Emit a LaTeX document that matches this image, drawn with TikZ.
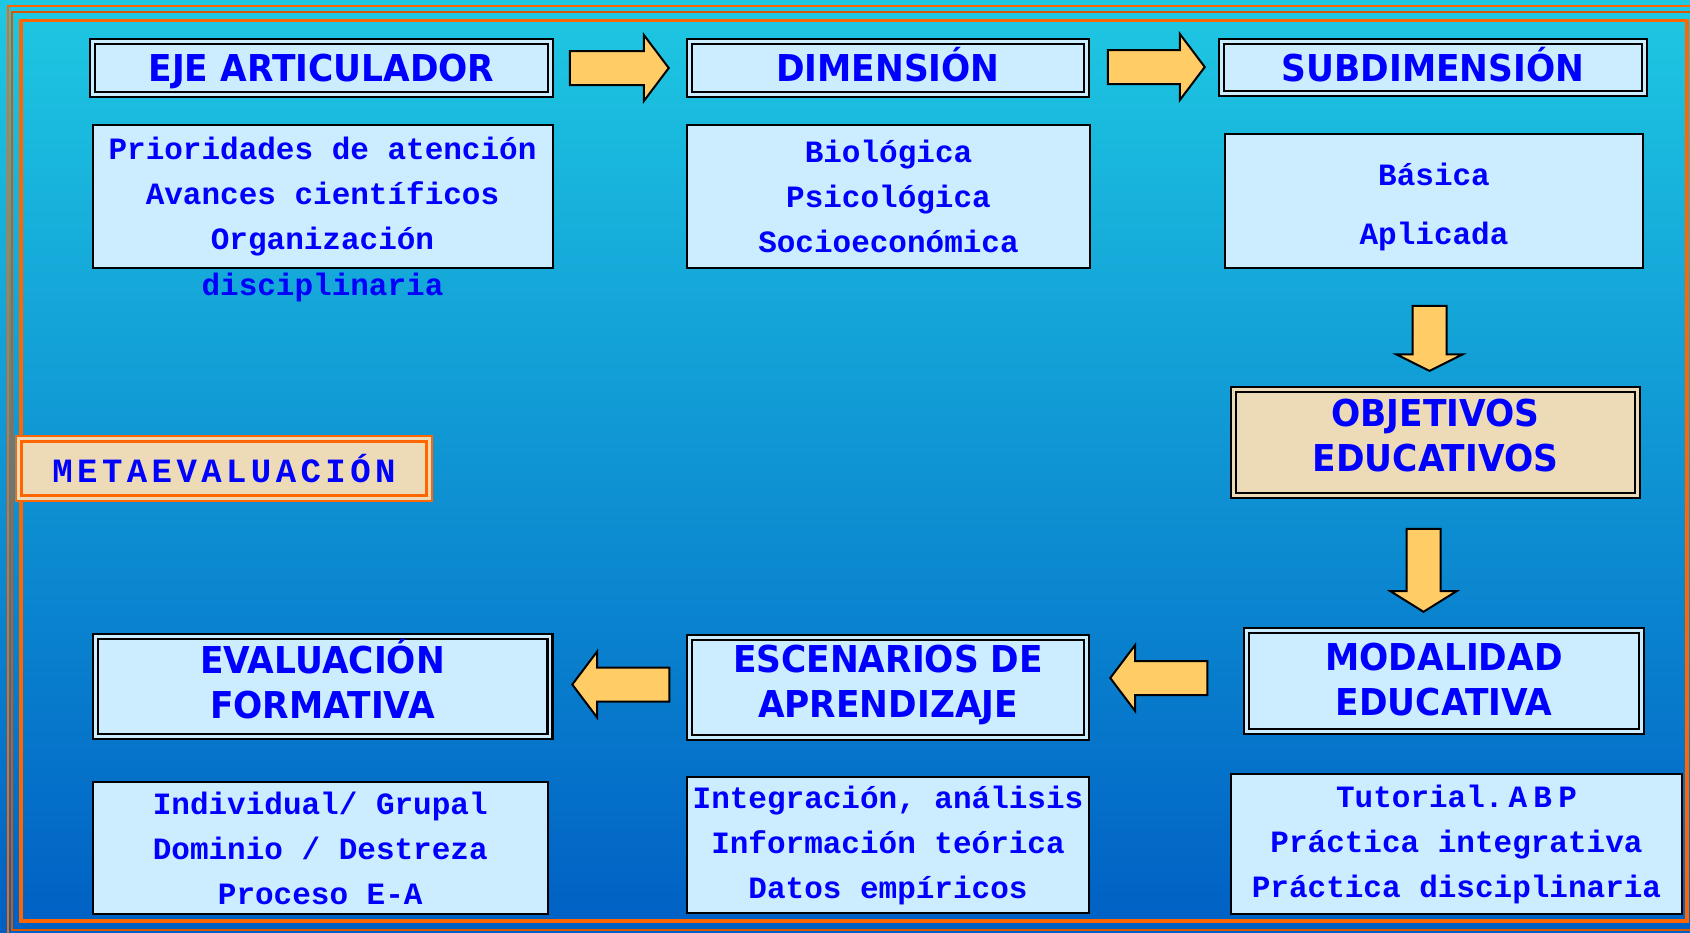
\documentclass[tikz,border=0pt]{standalone}
\usepackage{fontspec}
\usepackage{tikz}
\usetikzlibrary{shapes.arrows}

\newfontfamily\headfont[FakeStretch=0.93]{DejaVu Sans Bold}
\newfontfamily\monobf{Liberation Mono Bold}

\definecolor{bgtop}{RGB}{30,200,226}
\definecolor{bgbottom}{RGB}{0,96,196}
\definecolor{boxblue}{RGB}{204,236,255}
\definecolor{textblue}{RGB}{0,0,255}
\definecolor{arrowyellow}{RGB}{255,204,102}
\definecolor{frameorange}{RGB}{255,102,0}
\definecolor{parchment}{RGB}{236,219,182}

\begin{document}
\begin{tikzpicture}[x=0.5pt, y=-0.5pt,
  hdr/.style={draw=black, line width=1.1pt, double=boxblue, double distance=1.4pt,
    fill=boxblue, text=textblue, align=center, inner sep=0pt,
    font=\headfont\fontsize{18.5}{22.5}\selectfont},
  oneline/.style={text height=13.5pt, text depth=0pt},
  twoline/.style={text height=#1, text depth=0pt},
  twoline/.default=31.5pt,
  cbox/.style={draw=black, line width=1pt, fill=boxblue, text=textblue,
    align=center, inner sep=0pt, font=\monobf\fontsize{15.5}{22.5}\selectfont},
  sarrow/.style={single arrow, draw=black, line width=1pt, fill=arrowyellow,
    inner sep=8pt, single arrow head extend=8pt, line join=miter}]

% Background and orange frame
\useasboundingbox (0,0) rectangle (1690,932);
\shade[top color=bgtop, bottom color=bgbottom] (0,0) rectangle (1690,932);
\draw[frameorange, line width=1.25pt] (8,6) rectangle (1720,960);
\draw[frameorange!85!black, line width=0.9pt] (12,12) rectangle (1720,930);
\draw[frameorange, line width=1.75pt] (21,20.5) rectangle (1687,921);

% Top row: headings
\node[hdr, oneline, minimum width=228.9pt, minimum height=26.4pt] (eje) at (321.5,68) {EJE ARTICULADOR};
\node[hdr, oneline, minimum width=198.4pt, minimum height=26.4pt] (dim) at (888,68) {DIMENSIÓN};
\node[hdr, oneline, minimum width=211.4pt, minimum height=26pt] (sub) at (1433,67.5) {SUBDIMENSIÓN};

% Top row: contents
\node[cbox, minimum width=230pt, minimum height=71.5pt] (prior) at (322.5,196.5)
  {Prioridades de atención\\Avances científicos\\Organización};
\node[text=textblue, font=\monobf\fontsize{15.5}{22.5}\selectfont] (discip) at (322.5,287) {disciplinaria};
\node[cbox, minimum width=201.5pt, minimum height=71.5pt] (biol) at (888.5,196.5)
  {Biológica\\Psicológica\\Socioeconómica};
\node[cbox, minimum width=209pt, minimum height=67pt, text height=43pt, text depth=0pt,
  font=\monobf\fontsize{15.5}{29.5}\selectfont] (basica) at (1434,201)
  {Básica\\Aplicada};

% Objectives and meta evaluation
\node[hdr, twoline=29pt, fill=parchment, double=parchment, minimum width=201.9pt, minimum height=52.9pt] (obj) at (1435.5,442.5)
  {OBJETIVOS\\EDUCATIVOS};
\node[draw=frameorange, line width=1.2pt, double=parchment, double distance=1.4pt, fill=parchment,
  text=textblue, inner sep=0pt, minimum width=205.2pt, minimum height=29.7pt,
  font=\monobf\fontsize{17}{20}\selectfont\addfontfeatures{LetterSpace=13}] (meta) at (224,468.5) {METAEVALUACIÓN};

% Bottom row: headings
\node[hdr, twoline=34pt, minimum width=197.4pt, minimum height=50.4pt] (mod) at (1444,681) {MODALIDAD\\EDUCATIVA};
\node[hdr, twoline=30pt, minimum width=198.4pt, minimum height=49.9pt] (esc) at (888,687.5) {ESCENARIOS DE\\APRENDIZAJE};
\node[hdr, twoline, minimum width=227.4pt, minimum height=49.9pt] (eva) at (322.5,686.5) {EVALUACIÓN\\FORMATIVA};

% Bottom row: contents
\node[cbox, minimum width=227.75pt, minimum height=66pt] (indiv) at (320.25,848)
  {Individual/ Grupal\\Dominio / Destreza\\Proceso E-A};
\node[cbox, minimum width=201pt, minimum height=68pt] (integ) at (888,845)
  {Integración, análisis\\Información teórica\\Datos empíricos};
\node[cbox, minimum width=225.5pt, minimum height=70pt] (tutor) at (1456.5,844)
  {Tutorial.\,{\addfontfeatures{LetterSpace=20}ABP}\\Práctica integrativa\\Práctica disciplinaria};

% Block arrows (name/tip x/tip y/direction/length/tip angle)
\foreach \n/\x/\y/\r/\len/\ang in {ar1/670/68/0/49.5pt/106, ar2/1206/67/0/48.5pt/106,
    ar3/1429.5/372/270/32.5pt/127, ar4/1423.5/613/270/41.5pt/116,
    ar5/1109/678/180/48.5pt/106, ar6/571/684.5/180/48.5pt/106} {
  \node[sarrow, shape border rotate=\r, minimum height=\len, single arrow tip angle=\ang, anchor=tip] (\n) at (\x,\y) {};
}
\end{tikzpicture}
\end{document}
